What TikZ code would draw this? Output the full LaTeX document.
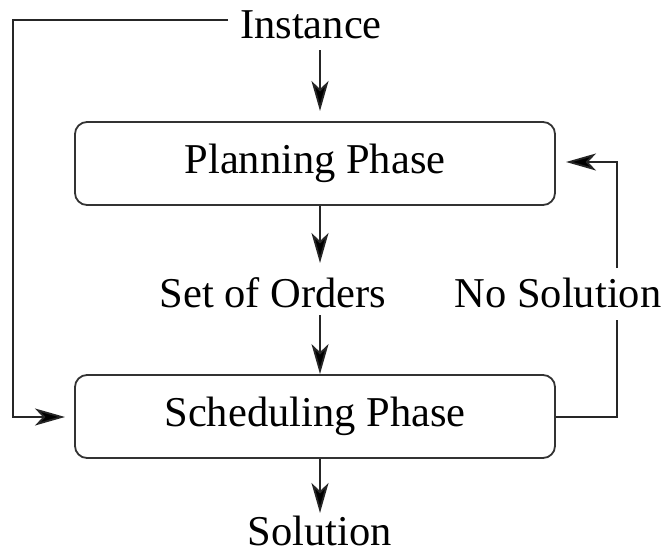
\documentclass[tikz,border=0pt]{standalone}
\usepackage{fontspec}
\setmainfont{Liberation Serif}
\usetikzlibrary{arrows.meta}
\begin{document}
\begin{tikzpicture}[x=1pt,y=-1pt,
  lbl/.style={font=\fontsize{42.5}{48}\selectfont, inner sep=0pt},
  phase/.style={draw=black!80, line width=1.8pt, rounded corners=12pt, minimum width=480pt, minimum height=83pt, inner sep=0pt, font=\fontsize{42.5}{48}\selectfont},
  conn/.style={line width=1.8pt, draw=black!85},
  arr/.style={conn, -{Stealth[length=30pt, width=17pt, inset=8pt, fill=black]}}]
\useasboundingbox (0,0) rectangle (666,554);
\node[lbl] (inst) at (311,25) {Instance};
\node[phase] (plan) at (315,163.5) {Planning Phase};
\node[lbl] (orders) at (273,293) {Set of Orders};
\node[lbl] (nosol) at (558,293) {No Solution};
\node[phase] (sched) at (315,416.5) {Scheduling Phase};
\node[lbl] (sol) at (320,531) {Solution};
\coordinate (a1) at (320,50);
\coordinate (a2) at (320,111);
\draw[arr] (a1) -- (a2);
\draw[arr] (plan.south -| a1) -- (320,263);
\draw[arr] (320,315) -- (sched.north -| a1);
\draw[arr] (sched.south -| a1) -- (320,513);
\coordinate (tl) at (13,20);
\coordinate (bl) at (13,417);
\draw[arr] (228,20) -- (tl) -- (bl) -- (65,417);
\coordinate (br) at (617,417);
\coordinate (tr) at (617,162);
\draw[conn] (sched.east |- br) -- (br) -- (617,320);
\draw[arr] (617,268) -- (tr) -- (566,162);
\end{tikzpicture}
\end{document}
